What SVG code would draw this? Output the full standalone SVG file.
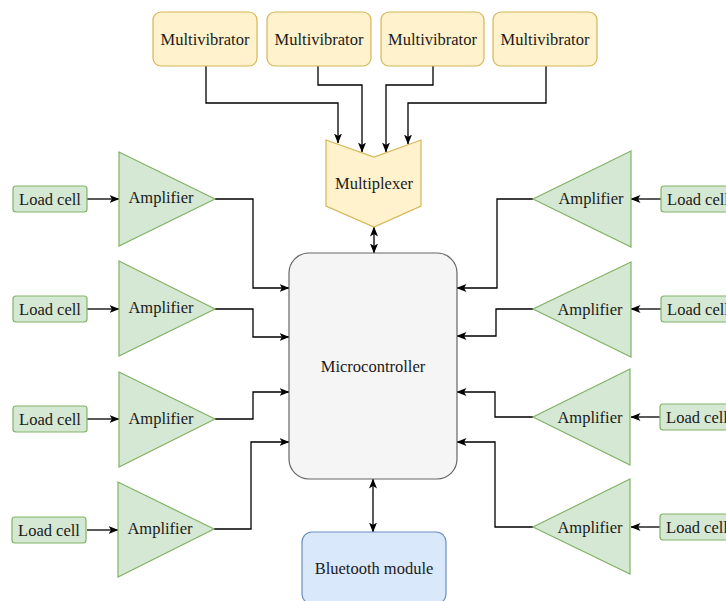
<svg xmlns="http://www.w3.org/2000/svg" width="726" height="601" viewBox="0 0 726 601">
<style>
text{font-family:'Liberation Serif','DejaVu Serif',serif;font-size:16.5px;fill:#1a1a1a;text-anchor:middle;dominant-baseline:central}
.mv{fill:#fff2cc;stroke:#d6b656;stroke-width:1.2}
.gr{fill:#d5e8d4;stroke:#82b366;stroke-width:1.2}
.mc{fill:#f5f5f5;stroke:#666666;stroke-width:1.2}
.bt{fill:#dae8fc;stroke:#6c8ebf;stroke-width:1.2}
.cn path{fill:none;stroke:#000;stroke-width:1.3}
</style>
<defs>
<marker id="ah" viewBox="0 0 10 8" refX="9.5" refY="4" markerWidth="10" markerHeight="8" markerUnits="userSpaceOnUse" orient="auto-start-reverse">
<path d="M0,0 L10,4 L0,8 L2.5,4 Z" fill="#000"/>
</marker>
</defs>
<rect width="726" height="601" fill="#fff"/>

<g class="cn" id="connectors">
<path d="M206,66 V103 H338 V143" marker-end="url(#ah)"/>
<path d="M318,66 V85 H362 V152" marker-end="url(#ah)"/>
<path d="M433,66 V85 H386 V152" marker-end="url(#ah)"/>
<path d="M546,66 V103 H408 V144" marker-end="url(#ah)"/>
<path d="M374,227 V253" marker-start="url(#ah)" marker-end="url(#ah)"/>
<path d="M373,479 V532" marker-start="url(#ah)" marker-end="url(#ah)"/>
<path d="M87,199 H119" marker-end="url(#ah)"/>
<path d="M87,309 H119" marker-end="url(#ah)"/>
<path d="M87,419 H119" marker-end="url(#ah)"/>
<path d="M87,530 H118" marker-end="url(#ah)"/>
<path d="M215,199 H253 V288 H289" marker-end="url(#ah)"/>
<path d="M215,309 H253 V337 H289" marker-end="url(#ah)"/>
<path d="M215,419 H253 V392 H289" marker-end="url(#ah)"/>
<path d="M214,529 H251 V442 H289" marker-end="url(#ah)"/>
<path d="M661,199 H631" marker-end="url(#ah)"/>
<path d="M661,309 H631" marker-end="url(#ah)"/>
<path d="M661,417 H631" marker-end="url(#ah)"/>
<path d="M661,527 H631" marker-end="url(#ah)"/>
<path d="M533,199 H497 V288 H457" marker-end="url(#ah)"/>
<path d="M533,309 H496 V336 H457" marker-end="url(#ah)"/>
<path d="M533,417 H495 V392 H457" marker-end="url(#ah)"/>
<path d="M533,527 H495 V442 H457" marker-end="url(#ah)"/>
</g>

<g id="mv1"><rect class="mv" x="153" y="12" width="104" height="54" rx="8"/><text x="205" y="39">Multivibrator</text></g>
<g id="mv2"><rect class="mv" x="267" y="12" width="104" height="54" rx="8"/><text x="319" y="39">Multivibrator</text></g>
<g id="mv3"><rect class="mv" x="381" y="12" width="103" height="54" rx="8"/><text x="432.5" y="39">Multivibrator</text></g>
<g id="mv4"><rect class="mv" x="493" y="12" width="104" height="54" rx="8"/><text x="545" y="39">Multivibrator</text></g>

<g id="multiplexer"><path class="mv" d="M326,140 L374,157 L421,140 L421,206 L374,227 L326,206 Z"/><text x="374" y="183">Multiplexer</text></g>

<g id="microcontroller"><rect class="mc" x="289" y="253" width="168" height="226" rx="20"/><text x="373" y="366">Microcontroller</text></g>

<g id="bluetooth"><rect class="bt" x="302" y="532" width="144" height="72" rx="10"/><text x="374" y="568">Bluetooth module</text></g>

<g id="lc-l1"><rect class="gr" x="13" y="186" width="74" height="26" rx="3"/><text x="50" y="199">Load cell</text></g>
<g id="lc-l2"><rect class="gr" x="13" y="296" width="74" height="26" rx="3"/><text x="50" y="309">Load cell</text></g>
<g id="lc-l3"><rect class="gr" x="13" y="406" width="74" height="26" rx="3"/><text x="50" y="419">Load cell</text></g>
<g id="lc-l4"><rect class="gr" x="12" y="517" width="74" height="26" rx="3"/><text x="49" y="530">Load cell</text></g>

<g id="amp-l1"><path class="gr" d="M119,152 L215,199 L119,246 Z"/><text x="161" y="197">Amplifier</text></g>
<g id="amp-l2"><path class="gr" d="M119,261 L215,309 L119,356 Z"/><text x="161" y="307">Amplifier</text></g>
<g id="amp-l3"><path class="gr" d="M119,372 L215,419 L119,467 Z"/><text x="161" y="418">Amplifier</text></g>
<g id="amp-l4"><path class="gr" d="M118,482 L214,529 L118,577 Z"/><text x="160" y="528">Amplifier</text></g>

<g id="amp-r1"><path class="gr" d="M631,151 L533,199 L631,247 Z"/><text x="591" y="198">Amplifier</text></g>
<g id="amp-r2"><path class="gr" d="M631,262 L533,309 L631,357 Z"/><text x="590" y="309">Amplifier</text></g>
<g id="amp-r3"><path class="gr" d="M630,369 L533,417 L630,465 Z"/><text x="590" y="417">Amplifier</text></g>
<g id="amp-r4"><path class="gr" d="M630,479 L533,527 L630,574 Z"/><text x="590" y="527">Amplifier</text></g>

<g id="lc-r1"><rect class="gr" x="661" y="186" width="74" height="26" rx="3"/><text x="698" y="199">Load cell</text></g>
<g id="lc-r2"><rect class="gr" x="661" y="296" width="74" height="26" rx="3"/><text x="698" y="309">Load cell</text></g>
<g id="lc-r3"><rect class="gr" x="660" y="404" width="74" height="26" rx="3"/><text x="697" y="417">Load cell</text></g>
<g id="lc-r4"><rect class="gr" x="660" y="514" width="74" height="26" rx="3"/><text x="697" y="527">Load cell</text></g>
</svg>
